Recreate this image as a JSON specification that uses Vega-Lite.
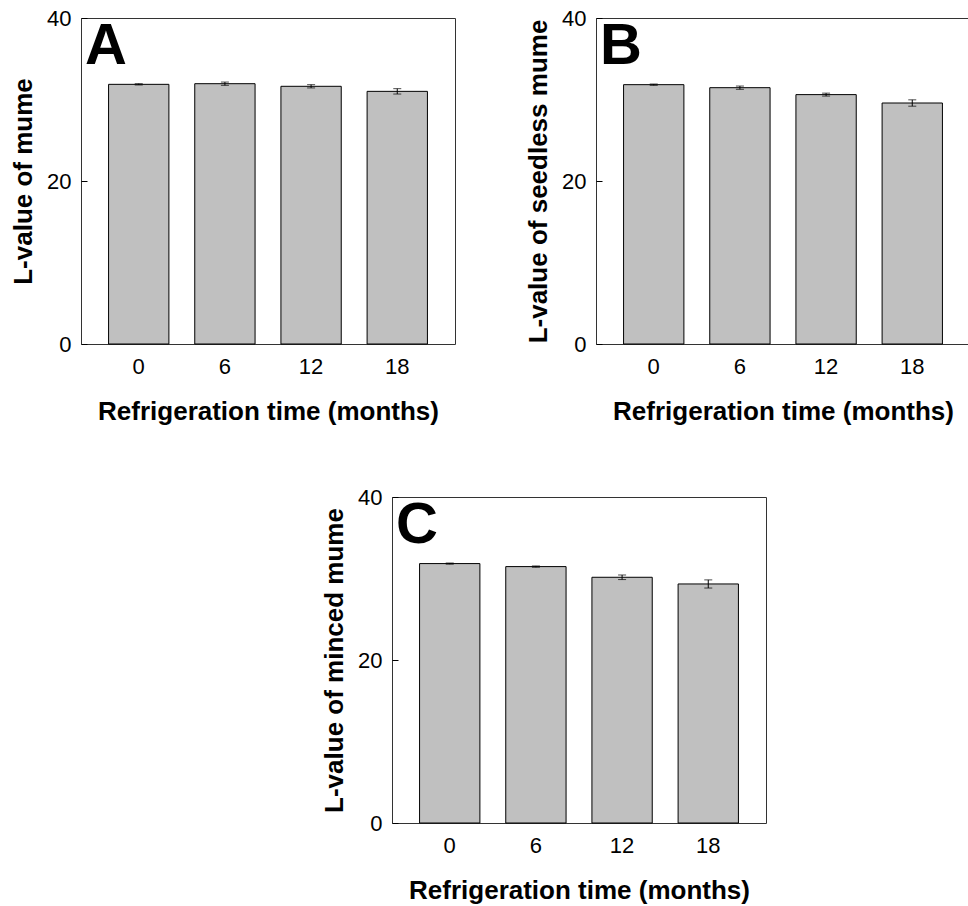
{
  "$schema": "https://vega.github.io/schema/vega-lite/v6.json",
  "padding": {"left": 10, "top": 6, "right": 0, "bottom": 0},
  "background": "white",
  "datasets": {
    "d": [
      {"panel": "A", "time": 0, "mean": 31.86, "err": 0.08},
      {"panel": "A", "time": 6, "mean": 31.94, "err": 0.2},
      {"panel": "A", "time": 12, "mean": 31.62, "err": 0.2},
      {"panel": "A", "time": 18, "mean": 31.0, "err": 0.33},
      {"panel": "B", "time": 0, "mean": 31.82, "err": 0.08},
      {"panel": "B", "time": 6, "mean": 31.45, "err": 0.2},
      {"panel": "B", "time": 12, "mean": 30.6, "err": 0.18},
      {"panel": "B", "time": 18, "mean": 29.57, "err": 0.39},
      {"panel": "C", "time": 0, "mean": 31.83, "err": 0.07},
      {"panel": "C", "time": 6, "mean": 31.46, "err": 0.08},
      {"panel": "C", "time": 12, "mean": 30.15, "err": 0.28},
      {"panel": "C", "time": 18, "mean": 29.33, "err": 0.5}
    ]
  },
  "config": {
    "font": "Liberation Sans",
    "view": {"stroke": null},
    "axis": {
      "labelFontSize": 22,
      "labelColor": "black",
      "titleFontSize": 26,
      "titleFontWeight": "bold",
      "titleColor": "black",
      "grid": false,
      "domain": false
    }
  },
  "spacing": 60,
  "vconcat": [
    {
      "spacing": 69,
      "align": "none",
      "hconcat": [
        {
          "width": 374, "height": 326,
          "view": {"stroke": "#333", "strokeWidth": 1},
          "title": {"text": "A", "anchor": "start", "frame": "group", "fontSize": 58, "fontWeight": "bold", "baseline": "top", "offset": -69, "dx": 4, "color": "black"},
          "data": {"name": "d"},
          "transform": [{"filter": "datum.panel === 'A'"}],
          "encoding": {
            "x": {"field": "time", "type": "ordinal", "scale": {"paddingInner": 0.3, "paddingOuter": 0.32},
                  "axis": {"title": "Refrigeration time (months)", "labelAngle": 0, "ticks": false, "labelPadding": 12, "titlePadding": 21}}
          },
          "layer": [
            {"mark": {"type": "bar", "fill": "#c0c0c0", "stroke": "black", "strokeWidth": 1},
             "encoding": {"y": {"field": "mean", "type": "quantitative", "scale": {"domain": [0, 40], "nice": false},
                                "axis": {"values": [0, 20, 40], "title": "L-value of mume", "tickSize": -6, "tickWidth": 1, "tickColor": "black", "labelPadding": 16, "titlePadding": 10}}}},
            {"mark": {"type": "errorbar", "color": "black", "ticks": {"size": 8, "thickness": 1, "color": "black"}},
             "encoding": {"y": {"field": "mean", "type": "quantitative", "title": "L-value of mume"}, "yError": {"field": "err"}}}
          ]
        },
        {
          "width": 374, "height": 326,
          "view": {"stroke": "#333", "strokeWidth": 1},
          "title": {"text": "B", "anchor": "start", "frame": "group", "fontSize": 58, "fontWeight": "bold", "baseline": "top", "offset": -69, "dx": 4, "color": "black"},
          "data": {"name": "d"},
          "transform": [{"filter": "datum.panel === 'B'"}],
          "encoding": {
            "x": {"field": "time", "type": "ordinal", "scale": {"paddingInner": 0.3, "paddingOuter": 0.32},
                  "axis": {"title": "Refrigeration time (months)", "labelAngle": 0, "ticks": false, "labelPadding": 12, "titlePadding": 21}}
          },
          "layer": [
            {"mark": {"type": "bar", "fill": "#c0c0c0", "stroke": "black", "strokeWidth": 1},
             "encoding": {"y": {"field": "mean", "type": "quantitative", "scale": {"domain": [0, 40], "nice": false},
                                "axis": {"values": [0, 20, 40], "title": "L-value of seedless mume", "tickSize": -6, "tickWidth": 1, "tickColor": "black", "labelPadding": 16, "titlePadding": 10}}}},
            {"mark": {"type": "errorbar", "color": "black", "ticks": {"size": 8, "thickness": 1, "color": "black"}},
             "encoding": {"y": {"field": "mean", "type": "quantitative", "title": "L-value of seedless mume"}, "yError": {"field": "err"}}}
          ]
        }
      ]
    },
    {
      "spacing": 20,
      "align": "none",
      "hconcat": [
        {
          "width": 220, "height": 10,
          "data": {"values": [{}]},
          "mark": {"type": "point", "opacity": 0}
        },
        {
          "width": 374, "height": 326,
          "view": {"stroke": "#333", "strokeWidth": 1},
          "title": {"text": "C", "anchor": "start", "frame": "group", "fontSize": 58, "fontWeight": "bold", "baseline": "top", "offset": -69, "dx": 4, "color": "black"},
          "data": {"name": "d"},
          "transform": [{"filter": "datum.panel === 'C'"}],
          "encoding": {
            "x": {"field": "time", "type": "ordinal", "scale": {"paddingInner": 0.3, "paddingOuter": 0.32},
                  "axis": {"title": "Refrigeration time (months)", "labelAngle": 0, "ticks": false, "labelPadding": 12, "titlePadding": 21}}
          },
          "layer": [
            {"mark": {"type": "bar", "fill": "#c0c0c0", "stroke": "black", "strokeWidth": 1},
             "encoding": {"y": {"field": "mean", "type": "quantitative", "scale": {"domain": [0, 40], "nice": false},
                                "axis": {"values": [0, 20, 40], "title": "L-value of minced mume", "tickSize": -6, "tickWidth": 1, "tickColor": "black", "labelPadding": 16, "titlePadding": 10}}}},
            {"mark": {"type": "errorbar", "color": "black", "ticks": {"size": 8, "thickness": 1, "color": "black"}},
             "encoding": {"y": {"field": "mean", "type": "quantitative", "title": "L-value of minced mume"}, "yError": {"field": "err"}}}
          ]
        }
      ]
    }
  ]
}
